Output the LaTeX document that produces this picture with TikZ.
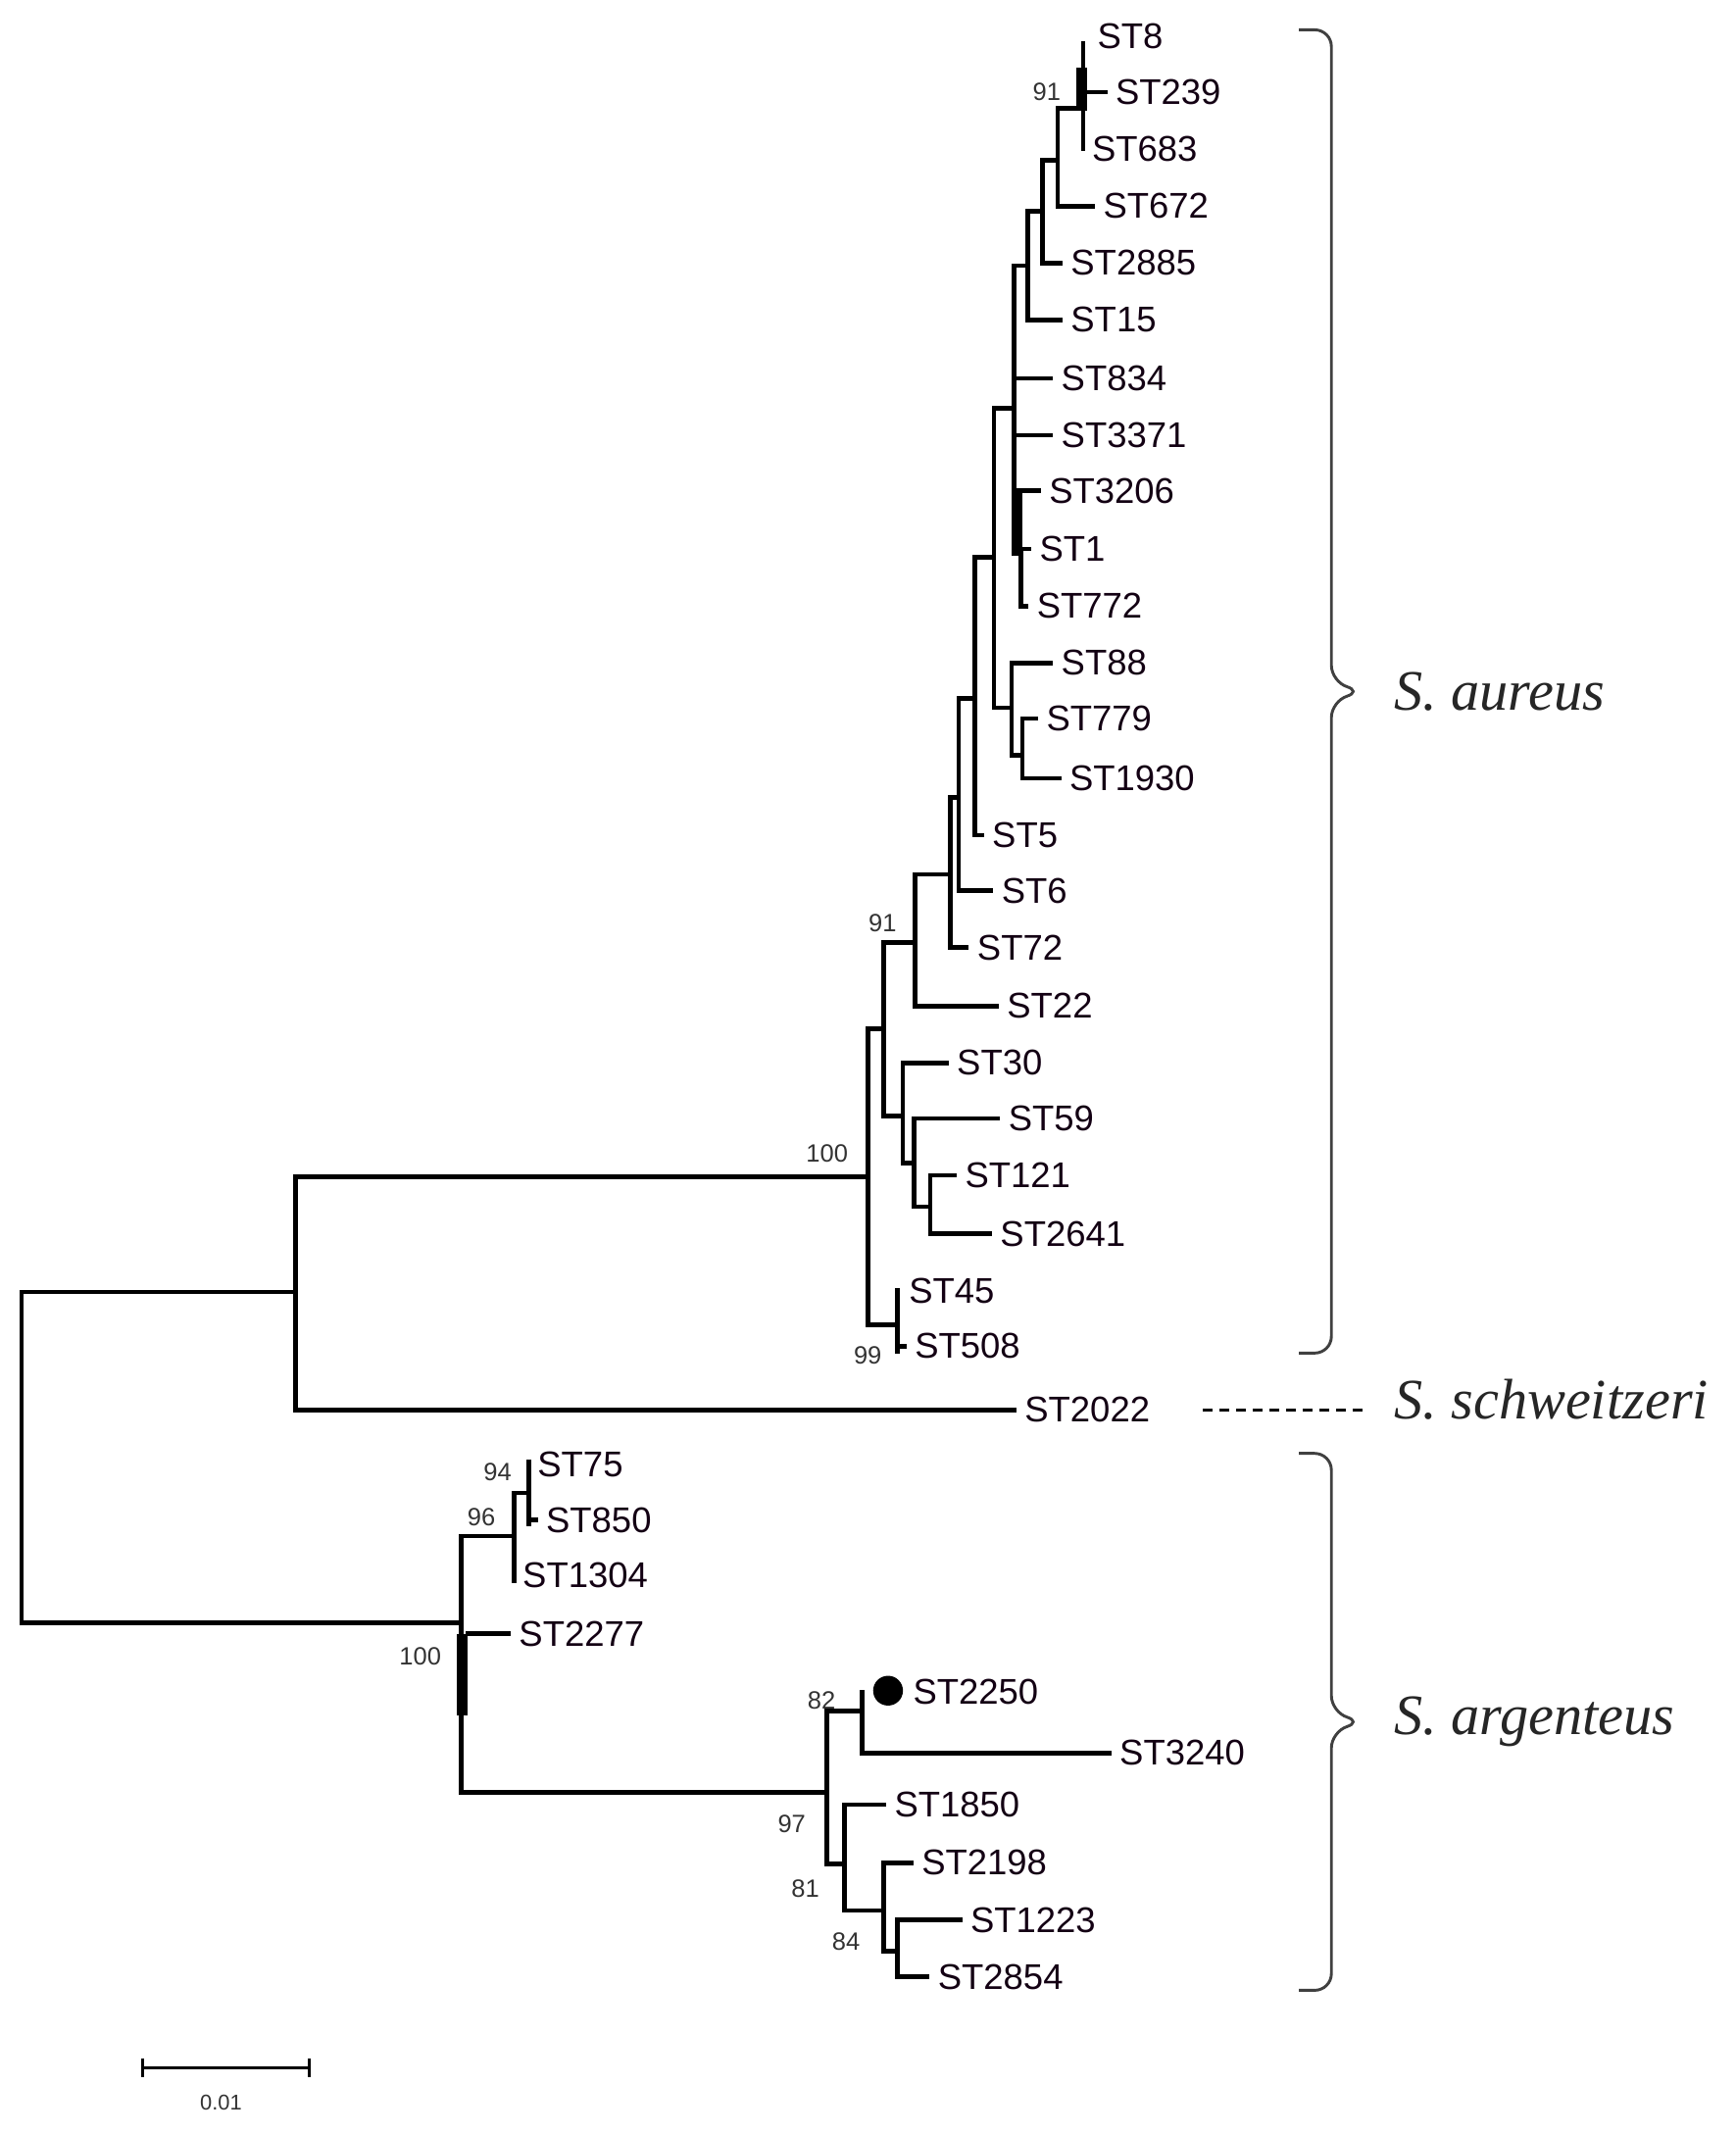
\documentclass[tikz,border=0pt]{standalone}
\usepackage{fontspec}
\setmainfont{Liberation Sans}
\newfontfamily\spfont{Liberation Serif}
\begin{document}
\begin{tikzpicture}[x=0.02cm,y=-0.02cm,
  br/.style={line width=1.9pt, line cap=rect},
  lab/.style={anchor=west, inner xsep=3.5pt, inner ysep=0pt, font=\fontsize{15}{15}\selectfont, text=black!85!violet},
  bs/.style={font=\fontsize{10.5}{10.5}\selectfont, text=black!80, inner sep=0pt},
  sp/.style={anchor=west, font=\fontsize{24}{24}\spfont\itshape, text=black!85},
  brk/.style={line width=1.2pt, draw=black!75, rounded corners=7pt}]
\useasboundingbox (0,0) rectangle (1280,1574);
% root
\draw[br] (16,953)--(16,1197);
\draw[br] (16,953)--(218,953);
\draw[br] (218,868)--(218,1040);
\draw[br] (218,1040)--(748,1040) node[lab] (st2022) {ST2022};
% S. aureus
\draw[br] (218,868)--(640,868);
\draw[br] (640,759)--(640,977);
\draw[br] (640,977)--(662,977);
\draw[br] (662,952)--(662,997);
\node[lab] (st45) at (664,952) {ST45};
\draw[br] (662,993)--(667,993) node[lab] (st508) {ST508};
\draw[br] (640,759)--(652,759);
\draw[br] (652,695)--(652,823);
\draw[br] (652,823)--(666,823);
\draw[br] (666,784)--(666,858);
\draw[br] (666,784)--(698,784) node[lab] (st30) {ST30};
\draw[br] (666,858)--(674,858);
\draw[br] (674,825)--(674,890);
\draw[br] (674,825)--(736,825) node[lab] (st59) {ST59};
\draw[br] (674,890)--(686,890);
\draw[br] (686,867)--(686,910);
\draw[br] (686,867)--(704,867) node[lab] (st121) {ST121};
\draw[br] (686,910)--(730,910) node[lab] (st2641) {ST2641};
\draw[br] (652,695)--(675,695);
\draw[br] (675,645)--(675,742);
\draw[br] (675,742)--(735,742) node[lab] (st22) {ST22};
\draw[br] (675,645)--(701,645);
\draw[br] (701,588)--(701,699);
\draw[br] (701,699)--(713,699) node[lab] (st72) {ST72};
\draw[br] (701,588)--(707,588);
\draw[br] (707,515)--(707,657);
\draw[br] (707,657)--(731,657) node[lab] (st6) {ST6};
\draw[br] (707,515)--(719,515);
\draw[br] (719,411)--(719,616);
\draw[br] (719,616)--(724,616) node[lab] (st5) {ST5};
\draw[br] (719,411)--(733,411);
\draw[br] (733,301)--(733,522);
\draw[br] (733,522)--(746,522);
\draw[br] (746,489)--(746,557);
\draw[br] (746,489)--(775,489) node[lab] (st88) {ST88};
\draw[br] (746,557)--(754,557);
\draw[br] (754,530)--(754,574);
\draw[br] (754,530)--(764,530) node[lab] (st779) {ST779};
\draw[br] (754,574)--(781,574) node[lab] (st1930) {ST1930};
\draw[br] (733,301)--(748,301);
\draw[br] (748,196)--(748,405);
\draw[br] (748,279)--(775,279) node[lab] (st834) {ST834};
\draw[br] (748,321)--(775,321) node[lab] (st3371) {ST3371};
\draw[br] (748,362)--(766,362) node[lab] (st3206) {ST3206};
\draw[br] (748,405)--(759,405) node[lab] (st1) {ST1};
\fill (746,362) rectangle (754,410);
\draw[br] (753,405)--(753,447)--(757,447) node[lab] (st772) {ST772};
\draw[br] (748,196)--(758,196);
\draw[br] (758,156)--(758,236);
\draw[br] (758,236)--(782,236) node[lab] (st15) {ST15};
\draw[br] (758,156)--(769,156);
\draw[br] (769,118)--(769,194);
\draw[br] (769,194)--(782,194) node[lab] (st2885) {ST2885};
\draw[br] (769,118)--(780,118);
\draw[br] (780,80)--(780,152);
\draw[br] (780,152)--(806,152) node[lab] (st672) {ST672};
\draw[br] (780,80)--(799,80);
\draw[br] (799,32)--(799,110);
\fill (794,50) rectangle (802,82);
\node[lab] (st8) at (803,27) {ST8};
\draw[br] (799,68)--(815,68) node[lab] (st239) {ST239};
\node[lab] (st683) at (799,110) {ST683};
\node[bs] (b1) at (772,68) {91};
\node[bs] (b2) at (651,681) {91};
\node[bs] (b3) at (610,851) {100};
\node[bs] (b4) at (640,1000) {99};
% S. argenteus
\draw[br] (16,1197)--(340,1197);
\draw[br] (340,1133)--(340,1322);
\fill (337,1205) rectangle (345,1265);
\draw[br] (340,1133)--(379,1133);
\draw[br] (379,1101)--(379,1166);
\node[lab] (st1304) at (379,1162) {ST1304};
\draw[br] (379,1101)--(390,1101);
\draw[br] (390,1078)--(390,1124);
\node[lab] (st75) at (390,1080) {ST75};
\draw[br] (390,1121)--(395,1121) node[lab] (st850) {ST850};
\draw[br] (345,1205)--(375,1205) node[lab] (st2277) {ST2277};
\draw[br] (340,1322)--(610,1322);
\draw[br] (610,1262)--(610,1375);
\draw[br] (610,1262)--(636,1262);
\draw[br] (636,1248)--(636,1293);
\fill (655,1247) circle (11);
\node[lab] (st2250) at (667,1248) {ST2250};
\draw[br] (636,1293)--(818,1293) node[lab] (st3240) {ST3240};
\draw[br] (610,1375)--(623,1375);
\draw[br] (623,1331)--(623,1409);
\draw[br] (623,1331)--(652,1331) node[lab] (st1850) {ST1850};
\draw[br] (623,1409)--(652,1409);
\draw[br] (652,1374)--(652,1439);
\draw[br] (652,1374)--(672,1374) node[lab] (st2198) {ST2198};
\draw[br] (652,1439)--(662,1439);
\draw[br] (662,1416)--(662,1458);
\draw[br] (662,1416)--(708,1416) node[lab] (st1223) {ST1223};
\draw[br] (662,1458)--(684,1458) node[lab] (st2854) {ST2854};
\node[bs] (c1) at (367,1086) {94};
\node[bs] (c2) at (355,1119) {96};
\node[bs] (c3) at (310,1222) {100};
\node[bs] (c4) at (606,1254) {82};
\node[bs] (c5) at (584,1345) {97};
\node[bs] (c6) at (594,1393) {81};
\node[bs] (c7) at (624,1432) {84};
% brackets and species
\draw[brk] (958,22)--(982,22)--(982,503)--(1005,510)--(982,517)--(982,998)--(958,998);
\draw[brk] (958,1072)--(982,1072)--(982,1263)--(1005,1270)--(982,1277)--(982,1468)--(958,1468);
\node[sp] (aur) at (1022,510) {S. aureus};
\node[sp] (arg) at (1022,1270) {S. argenteus};
\node[sp] (sch) at (1022,1032) {S. schweitzeri};
\coordinate (dl) at (887,1040);
\coordinate (dr) at (1005,1040);
\draw[line width=1.1pt, dash pattern=on 4pt off 3pt] (dl)--(dr);
% scale bar
\draw[line width=1.2pt] (105,1518)--(105,1532) (105,1525)--(228,1525) (228,1518)--(228,1532);
\node[bs, font=\fontsize{9}{9}\selectfont] (sc) at (163,1551) {0.01};
\end{tikzpicture}
\end{document}
